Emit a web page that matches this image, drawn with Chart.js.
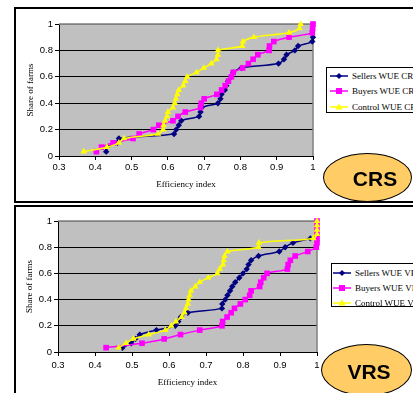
<!DOCTYPE html>
<html>
<head>
<meta charset="utf-8">
<script src="https://cdn.jsdelivr.net/npm/chart.js@4.4.1/dist/chart.umd.min.js"></script>
<style>
  html, body { margin: 0; padding: 0; background: #fff; }
  body { width: 413px; height: 393px; overflow: hidden; position: relative; font-family: 'Liberation Serif', serif; }
  .panel { position: absolute; left: 14px; width: 430px; border: 2px solid #000; box-sizing: border-box; }
  #panelTop { top: 7px; height: 196px; }
  #panelBot { top: 205px; height: 220px; }
  canvas { position: absolute; left: 14px; }
  .legend { position: absolute; border: 1px solid #000; background: #fff; width: 130px; box-sizing: border-box; font-size: 9px; color: #000; }
  .legend .row { position: absolute; height: 12px; line-height: 12px; white-space: nowrap; }
  .legend svg { position: absolute; top: 1px; }
  .legend span { position: absolute; top: 0; }
  .badge { position: absolute; background: #FFCC66; border: 1.5px solid #000; border-radius: 50%; box-sizing: border-box; }
  .badge-text { position: absolute; font-family: 'Liberation Sans', Arial, sans-serif; font-weight: bold; font-size: 21px; line-height: 21px; transform: translate(-50%, -50%); color: #000; }
</style>
</head>
<body>
<div class="panel" id="panelTop"></div>
<div class="panel" id="panelBot"></div>
<canvas id="chartCrs" width="399" height="195" style="top:7px"></canvas>
<canvas id="chartVrs" width="399" height="187" style="top:206px"></canvas>

<div class="legend" id="legendCrs" style="left:326px; top:67px; height:46px;"></div>
<div class="legend" id="legendVrs" style="left:331px; top:263px; height:44px;"></div>

<div class="badge" style="left:323px; top:153px; width:89px; height:49px;"></div>
<div class="badge-text" style="left:375px; top:178px;">CRS</div>
<div class="badge" style="left:321px; top:344px; width:91px; height:52px;"></div>
<div class="badge-text" style="left:369px; top:371px;">VRS</div>

<script>
(function () {
  'use strict';

  // ---- axis ranges / labels ----
  var X_MIN = 0.3, X_MAX = 1, X_STEP = 0.1;
  var Y_MIN = 0, Y_MAX = 1, Y_STEP = 0.2;
  var X_TITLE = 'Efficiency index';
  var Y_TITLE = 'Share of farms';
  var NAMES_CRS = ['Sellers WUE CRS', 'Buyers WUE CRS', 'Control WUE CRS'];
  var NAMES_VRS = ['Sellers WUE VRS', 'Buyers WUE VRS', 'Control WUE VRS'];

  // ---- CRS panel data (efficiency index, cumulative share) ----
  var sellersCrsX = [0.430, 0.432, 0.461, 0.465, 0.617, 0.623, 0.630, 0.637, 0.686, 0.690, 0.693, 0.738, 0.745, 0.748,
                     0.757, 0.761, 0.766, 0.775, 0.780, 0.803, 0.905, 0.920, 0.927, 0.950, 0.959, 0.998, 1.000];
  var sellersCrsY = [0.033, 0.067, 0.100, 0.133, 0.167, 0.200, 0.233, 0.267, 0.300, 0.333, 0.367, 0.400, 0.433, 0.467,
                     0.500, 0.533, 0.567, 0.600, 0.633, 0.667, 0.700, 0.733, 0.767, 0.800, 0.833, 0.867, 0.900];

  var buyersCrsX = [0.403, 0.417, 0.449, 0.504, 0.521, 0.560, 0.575, 0.614, 0.628, 0.648, 0.690, 0.692, 0.700, 0.735, 0.748,
                    0.758, 0.767, 0.775, 0.780, 0.806, 0.822, 0.835, 0.848, 0.879, 0.880, 0.892, 0.934, 0.998, 0.999, 1.000];
  var buyersCrsY = [0.033, 0.067, 0.100, 0.133, 0.167, 0.200, 0.233, 0.267, 0.300, 0.333, 0.367, 0.400, 0.433, 0.467, 0.500,
                    0.533, 0.567, 0.600, 0.633, 0.667, 0.700, 0.733, 0.767, 0.800, 0.833, 0.867, 0.900, 0.933, 0.967, 1.000];

  var controlCrsX = [0.368, 0.432, 0.465, 0.479, 0.573, 0.587, 0.588, 0.592, 0.598, 0.600, 0.614, 0.619, 0.622, 0.626, 0.630,
                     0.642, 0.648, 0.653, 0.679, 0.699, 0.720, 0.734, 0.738, 0.738, 0.805, 0.807, 0.837, 0.934, 0.963, 0.966];
  var controlCrsY = [0.033, 0.067, 0.100, 0.133, 0.167, 0.200, 0.233, 0.267, 0.300, 0.333, 0.367, 0.400, 0.433, 0.467, 0.500,
                     0.533, 0.567, 0.600, 0.633, 0.667, 0.700, 0.733, 0.767, 0.800, 0.833, 0.867, 0.900, 0.933, 0.967, 1.000];

  // ---- VRS panel data ----
  var sellersVrsX = [0.474, 0.498, 0.509, 0.521, 0.566, 0.617, 0.625, 0.632, 0.651, 0.743, 0.744, 0.752, 0.758,
                     0.765, 0.771, 0.779, 0.790, 0.800, 0.810, 0.815, 0.822, 0.842, 0.898, 0.914, 0.935, 0.982];
  var sellersVrsY = [0.033, 0.067, 0.100, 0.133, 0.167, 0.200, 0.233, 0.267, 0.300, 0.333, 0.367, 0.400, 0.433,
                     0.467, 0.500, 0.533, 0.567, 0.600, 0.633, 0.667, 0.700, 0.733, 0.767, 0.800, 0.833, 0.867];

  var buyersVrsX = [0.430, 0.527, 0.587, 0.631, 0.683, 0.743, 0.745, 0.757, 0.768, 0.777, 0.793, 0.806, 0.818, 0.822, 0.845,
                    0.848, 0.856, 0.865, 0.920, 0.922, 0.928, 0.941, 0.975, 0.998, 1.000, 1.000, 1.000, 1.000, 1.000, 1.000];
  var buyersVrsY = [0.033, 0.067, 0.100, 0.133, 0.167, 0.200, 0.233, 0.267, 0.300, 0.333, 0.367, 0.400, 0.433, 0.467, 0.500,
                    0.533, 0.567, 0.600, 0.633, 0.667, 0.700, 0.733, 0.767, 0.800, 0.833, 0.867, 0.900, 0.933, 0.967, 1.000];

  var controlVrsX = [0.464, 0.484, 0.504, 0.545, 0.590, 0.606, 0.619, 0.634, 0.642, 0.646, 0.651, 0.653, 0.656, 0.659, 0.671,
                     0.683, 0.706, 0.731, 0.737, 0.746, 0.748, 0.750, 0.758, 0.842, 0.843, 0.990, 1.000, 1.000, 1.000, 1.000];
  var controlVrsY = [0.033, 0.067, 0.100, 0.133, 0.167, 0.200, 0.233, 0.267, 0.300, 0.333, 0.367, 0.400, 0.433, 0.467, 0.500,
                     0.533, 0.567, 0.600, 0.633, 0.667, 0.700, 0.733, 0.767, 0.800, 0.833, 0.867, 0.900, 0.933, 0.967, 1.000];

  // series look: sellers navy diamonds, buyers magenta squares, control yellow triangles
  var STYLES = [
    { color: '#000080', pointStyle: 'rectRot', radius: 3.2, order: 3 },
    { color: '#FF00FF', pointStyle: 'rect', radius: 4, order: 2 },
    { color: '#FFFF00', pointStyle: 'triangle', radius: 3.8, order: 1 }
  ];

  function toPoints(xs, ys) {
    return xs.map(function (x, i) { return { x: x, y: ys[i] }; });
  }

  function fmt(v) { return String(+v.toFixed(1)); }

  // grey plot area with grey top/right frame like the Excel original
  var plotFrame = {
    id: 'plotFrame',
    beforeDraw: function (chart) {
      var a = chart.chartArea, c = chart.ctx;
      c.save();
      c.fillStyle = '#C0C0C0';
      c.fillRect(a.left, a.top, a.right - a.left, a.bottom - a.top);
      c.restore();
    },
    beforeDatasetsDraw: function (chart) {
      var a = chart.chartArea, c = chart.ctx;
      c.save();
      c.strokeStyle = '#808080';
      c.lineWidth = 1.5;
      c.beginPath();
      c.moveTo(a.left, a.top);
      c.lineTo(a.right, a.top);
      c.lineTo(a.right, a.bottom);
      c.stroke();
      c.restore();
    }
  };

  function makeChart(canvasId, names, series, lay) {
    var datasets = series.map(function (pts, i) {
      var s = STYLES[i];
      return {
        label: names[i],
        data: pts,
        order: s.order,
        borderColor: s.color,
        backgroundColor: s.color,
        borderWidth: 1.5,
        tension: 0.3,
        pointStyle: s.pointStyle,
        pointRadius: s.radius,
        pointBorderWidth: 0,
        pointBorderColor: s.color,
        pointBackgroundColor: s.color,
        clip: false
      };
    });

    return new Chart(document.getElementById(canvasId), {
      type: 'line',
      data: { datasets: datasets },
      plugins: [plotFrame],
      options: {
        responsive: false,
        animation: false,
        layout: { padding: { left: 0, top: lay.top, right: lay.right, bottom: 0 } },
        plugins: { legend: { display: false }, tooltip: { enabled: false } },
        scales: {
          x: {
            type: 'linear',
            min: X_MIN, max: X_MAX,
            afterFit: function (scale) { scale.height = lay.xHeight; },
            grid: { drawOnChartArea: false, drawTicks: true, tickLength: 4, color: '#000', tickColor: '#000' },
            border: { display: true, color: '#000', width: 1 },
            ticks: {
              stepSize: X_STEP, color: '#000', padding: lay.xTickPad, maxRotation: 0,
              font: { family: 'Liberation Sans', size: 9.5 },
              callback: fmt
            },
            title: {
              display: true, text: X_TITLE, color: '#000',
              font: { family: 'Liberation Serif', size: 9 },
              padding: { top: 0, bottom: lay.xTitlePad }
            }
          },
          y: {
            min: Y_MIN, max: Y_MAX,
            afterFit: function (scale) { scale.width = lay.yWidth; },
            grid: {
              drawTicks: true, tickLength: 4, tickColor: '#000', lineWidth: 1,
              color: function (ctx) { return ctx.tick && ctx.tick.value === 1 ? '#808080' : '#000'; }
            },
            border: { display: true, color: '#000', width: 1 },
            ticks: {
              stepSize: Y_STEP, color: '#000', padding: 2,
              font: { family: 'Liberation Sans', size: 9.5 },
              callback: fmt
            },
            title: {
              display: true, text: Y_TITLE, color: '#000',
              font: { family: 'Liberation Serif', size: 9 },
              padding: { top: lay.yTitlePad, bottom: 0 }
            }
          }
        }
      }
    });
  }

  function buildLegend(id, names, lay) {
    var box = document.getElementById(id);
    var shapes = [
      '<polygon points="9,2 12,5 9,8 6,5" fill="#000080"/>',
      '<rect x="6" y="2" width="6" height="6" fill="#FF00FF"/>',
      '<polygon points="9,1.5 12.5,7.5 5.5,7.5" fill="#FFFF00"/>'
    ];
    names.forEach(function (name, i) {
      var row = document.createElement('div');
      row.className = 'row';
      row.style.top = (lay.rows[i] - 6) + 'px';
      row.style.left = '0px';
      row.innerHTML =
        '<svg width="20" height="10" style="left:' + lay.lineLeft + 'px">' +
        '<line x1="0" y1="5" x2="18" y2="5" stroke="' + STYLES[i].color + '" stroke-width="1.5"/>' +
        shapes[i] + '</svg>' +
        '<span style="left:' + lay.textLeft + 'px">' + name + '</span>';
      box.appendChild(row);
    });
  }

  makeChart('chartCrs', NAMES_CRS, [
    toPoints(sellersCrsX, sellersCrsY),
    toPoints(buyersCrsX, buyersCrsY),
    toPoints(controlCrsX, controlCrsY)
  ], { top: 17, right: 100, xHeight: 46, yWidth: 45, xTickPad: 2, xTitlePad: 12, yTitlePad: 11.5 });

  makeChart('chartVrs', NAMES_VRS, [
    toPoints(sellersVrsX, sellersVrsY),
    toPoints(buyersVrsX, buyersVrsY),
    toPoints(controlVrsX, controlVrsY)
  ], { top: 15, right: 96, xHeight: 41, yWidth: 44, xTickPad: 4, xTitlePad: 5, yTitlePad: 10 });

  buildLegend('legendCrs', NAMES_CRS, { rows: [8, 23, 39], lineLeft: 3, textLeft: 25 });
  buildLegend('legendVrs', NAMES_VRS, { rows: [9, 24, 39], lineLeft: 1, textLeft: 23 });
})();
</script>
</body>
</html>
